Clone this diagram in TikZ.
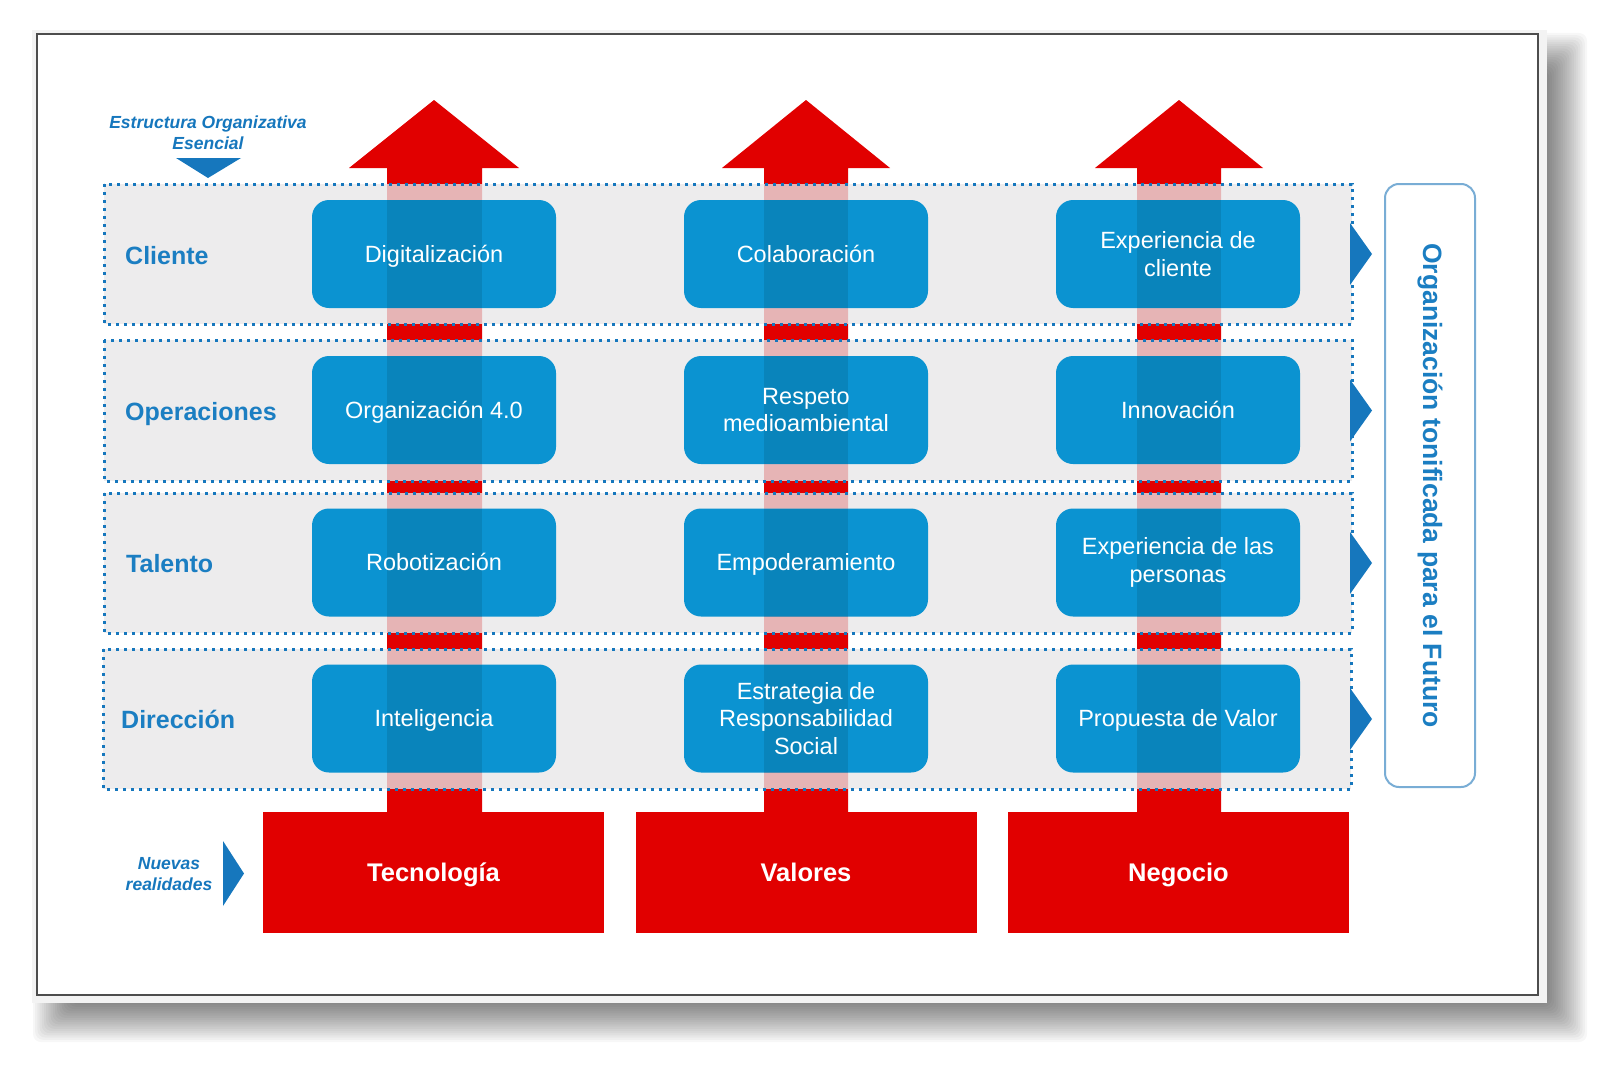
\documentclass[tikz,border=0pt]{standalone}
\usepackage{fontspec}
\setmainfont{Liberation Sans}
\definecolor{redc}{HTML}{E10000}
\definecolor{boxblue}{HTML}{0B93D1}
\definecolor{dkblue}{HTML}{1677BD}
\definecolor{labelblue}{HTML}{1B7EC2}
\definecolor{bandgray}{HTML}{E8E7E8}
\definecolor{vbord}{HTML}{79ADD5}
\definecolor{framegray}{HTML}{F3F3F3}
\definecolor{framedark}{HTML}{4D4D4D}
\begin{document}
\begin{tikzpicture}[x=1pt,y=-1pt,
  band/.style={fill=bandgray, fill opacity=0.78, draw=dkblue, line width=3pt, dash pattern=on 3pt off 5pt},
  bbox/.style={fill=boxblue, rounded corners=17pt, minimum width=244pt, minimum height=108pt, inner sep=0pt},
  btext/.style={text=white, align=center, inner sep=0pt, font=\fontsize{23.5}{27.5}\selectfont},
  bsingle/.style={btext, text height=16.8pt, text depth=0pt},
  rbox/.style={fill=redc, minimum width=341pt, minimum height=121pt, inner sep=0pt, text=white, text height=18.3pt, text depth=0pt, font=\bfseries\fontsize{25.5}{30}\selectfont},
  rowlabel/.style={anchor=base west, inner sep=0pt, text=labelblue, font=\bfseries\fontsize{25}{30}\selectfont},
  sidetext/.style={align=center, inner sep=0pt, text=dkblue, font=\bfseries\itshape\fontsize{17.5}{20.5}\selectfont}
]
\useasboundingbox (0,0) rectangle (1609,1065);
\fill[white] (0,0) rectangle (1609,1065);
% blurred drop shadow
\foreach \i in {0,...,19}{
  \pgfmathsetmacro{\d}{22-2.2*\i}
  \fill[black, opacity=0.03, rounded corners=8pt] ({55-\d},{55-\d}) rectangle ({1565+\d},{1020+\d});
}
% frame
\fill[framegray] (32,30) rectangle (1547,1003);
\draw[line width=2pt, draw=framedark, fill=white] (37,34) rectangle (1538,995);

% red arrows
\fill[redc] (387,812) -- (387,168) -- (349,168) -- (434,100) -- (519,168) -- (482,168) -- (482,812) -- cycle;
\fill[redc] (764,812) -- (764,168) -- (722,168) -- (806,100) -- (890,168) -- (848,168) -- (848,812) -- cycle;
\fill[redc] (1137,812) -- (1137,168) -- (1095,168) -- (1179,100) -- (1263,168) -- (1221,168) -- (1221,812) -- cycle;

% bands
\path[band] (104,184) rectangle (1352,324);
\path[band] (104,340) rectangle (1352,481);
\path[band] (104,493) rectangle (1352,633);
\path[band] (103,649) rectangle (1351,789);

% band arrows
\foreach \c in {254,410.5,563,719}
  \fill[dkblue] (1350,{\c-31}) -- (1372,\c) -- (1350,{\c+31}) -- cycle;

% blue boxes
\foreach \row/\cy in {1/254,2/410,3/562.5,4/718.5}{
  \foreach \col/\cx in {1/434,2/806,3/1178}{
    \node[bbox] (b\row\col) at (\cx,\cy) {};
  }
  \fill[black, opacity=0.1] (387,{\cy-54}) rectangle (482,{\cy+54});
  \fill[black, opacity=0.1] (764,{\cy-54}) rectangle (848,{\cy+54});
  \fill[black, opacity=0.1] (1137,{\cy-54}) rectangle (1221,{\cy+54});
}
\node[bsingle] (t11) at (b11) {Digitalización};
\node[bsingle] (t12) at (b12) {Colaboración};
\node[btext] (t13) at (b13) {Experiencia de\\cliente};
\node[bsingle] (t21) at (b21) {Organización 4.0};
\node[btext] (t22) at (b22) {Respeto\\medioambiental};
\node[bsingle] (t23) at (b23) {Innovación};
\node[bsingle] (t31) at (b31) {Robotización};
\node[bsingle] (t32) at (b32) {Empoderamiento};
\node[btext] (t33) at (b33) {Experiencia de las\\personas};
\node[bsingle] (t41) at (b41) {Inteligencia};
\node[btext] (t42) at (b42) {Estrategia de\\Responsabilidad\\Social};
\node[bsingle] (t43) at (b43) {Propuesta de Valor};

% row labels
\node[rowlabel] (lcli) at (125,264) {Cliente};
\node[rowlabel] (lope) at (125,420) {Operaciones};
\node[rowlabel] (ltal) at (126,572) {Talento};
\node[rowlabel] (ldir) at (121,728.5) {Dirección};

% red base boxes
\node[rbox] (tec) at (433.5,872) {Tecnología};
\node[rbox] (val) at (806,872) {Valores};
\node[rbox] (neg) at (1178.5,872) {Negocio};

% right vertical box
\node[draw=vbord, line width=2pt, fill=white, rounded corners=14pt, minimum width=90pt, minimum height=603pt, inner sep=0pt] (vbox) at (1430,485.5) {};
\node[rotate=-90, inner sep=0pt, text=labelblue, font=\bfseries\fontsize{26.5}{30}\selectfont] (vtext) at (vbox.center) {Organización tonificada para el Futuro};

% side labels
\node[sidetext] (eo) at (208,132.5) {Estructura Organizativa\\Esencial};
\fill[dkblue] (176,158) -- (241,158) -- (208,178) -- cycle;
\node[sidetext] (nr) at (169,874) {Nuevas\\realidades};
\fill[dkblue] (223,841) -- (244,873.5) -- (223,906) -- cycle;
\end{tikzpicture}
\end{document}
